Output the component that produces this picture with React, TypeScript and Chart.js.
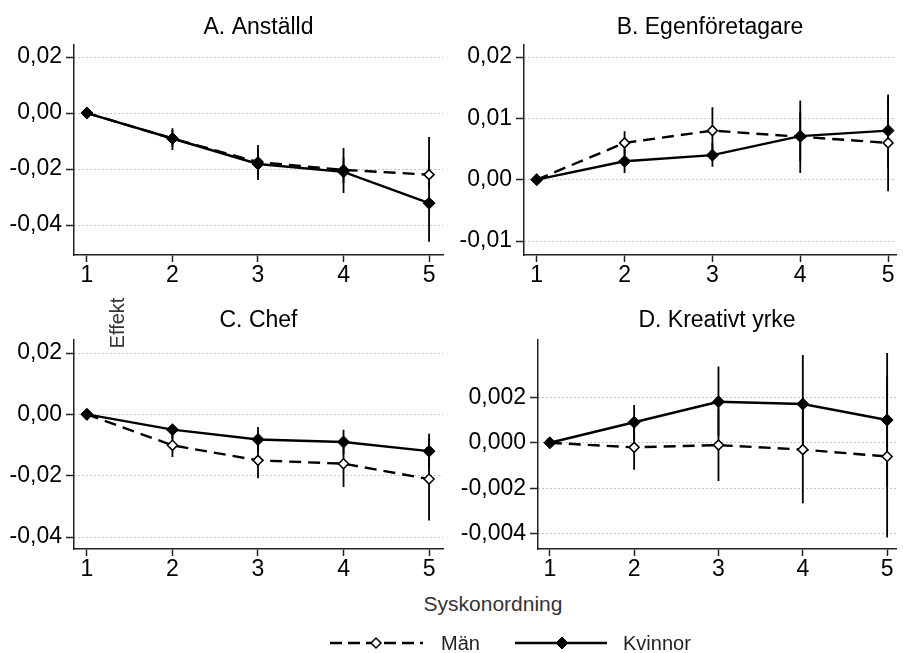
import React, { useEffect, useRef } from "react";
import { Chart, registerables } from "chart.js";

Chart.register(...registerables);

// ---------- data ----------
const syskonordning = [1, 2, 3, 4, 5];
const xTickValues = [1, 2, 3, 4, 5];

// A. Anställd
const aTitle = "A. Anställd";
const aYTicks = [0.02, 0.0, -0.02, -0.04];
const aMan = [0, -0.0091, -0.0175, -0.0203, -0.022];
const aManLo = [null, -0.012, -0.022, -0.025, -0.027];
const aManHi = [null, -0.006, -0.013, -0.016, -0.017];
const aKv = [0, -0.0091, -0.0182, -0.021, -0.0322];
const aKvLo = [null, -0.0132, -0.0239, -0.0286, -0.046];
const aKvHi = [null, -0.0054, -0.0114, -0.0125, -0.0086];

// B. Egenföretagare
const bTitle = "B. Egenföretagare";
const bYTicks = [0.02, 0.01, 0.0, -0.01];
const bMan = [0, 0.006, 0.008, 0.007, 0.006];
const bManLo = [null, 0.004, 0.004, 0.003, -0.0019];
const bManHi = [null, 0.0079, 0.0118, 0.011, 0.0135];
const bKv = [0, 0.003, 0.004, 0.0071, 0.008];
const bKvLo = [null, 0.0011, 0.0021, 0.0011, 0.002];
const bKvHi = [null, 0.005, 0.006, 0.0129, 0.0139];

// C. Chef
const cTitle = "C. Chef";
const cYTicks = [0.02, 0.0, -0.02, -0.04];
const cMan = [0, -0.0101, -0.015, -0.0161, -0.0211];
const cManLo = [null, -0.0139, -0.0208, -0.0237, -0.0346];
const cManHi = [null, -0.006, -0.009, -0.009, -0.008];
const cKv = [0, -0.005, -0.0082, -0.009, -0.012];
const cKvLo = [null, -0.008, -0.012, -0.013, -0.018];
const cKvHi = [null, -0.0036, -0.0041, -0.005, -0.0063];

// D. Kreativt yrke
const dTitle = "D. Kreativt yrke";
const dYTicks = [0.002, 0.0, -0.002, -0.004];
const dMan = [0, -0.0002, -0.0001, -0.0003, -0.0006];
const dManLo = [null, -0.00118, -0.00168, -0.00265, -0.00415];
const dManHi = [null, 0.0008, 0.0015, 0.002, 0.0029];
const dKv = [0, 0.0009, 0.0018, 0.0017, 0.001];
const dKvLo = [null, 0.0001, 0.0003, -0.0005, -0.0019];
const dKvHi = [null, 0.00166, 0.00335, 0.00385, 0.00394];

const legendMan = "Män";
const legendKv = "Kvinnor";
const xAxisTitle = "Syskonordning";
const yAxisTitle = "Effekt";

// ---------- layout ----------
const FONT = '"Liberation Sans", Arial, Helvetica, sans-serif';

type PanelSpec = {
  title: string;
  yTicks: number[];
  dec: number;
  man: number[];
  manLo: (number | null)[];
  manHi: (number | null)[];
  kv: number[];
  kvLo: (number | null)[];
  kvHi: (number | null)[];
  left: number;
  top: number;
  width: number;
  height: number;
  yAxisW: number;
  xAxisH: number;
  padRight: number;
  titlePadTop: number;
  titlePadBottom: number;
  xMin: number;
  xMax: number;
  yMin: number;
  yMax: number;
};

const panels: PanelSpec[] = [
  {
    title: aTitle, yTicks: aYTicks, dec: 2,
    man: aMan, manLo: aManLo, manHi: aManHi, kv: aKv, kvLo: aKvLo, kvHi: aKvHi,
    left: 0, top: 0, width: 450, height: 290, yAxisW: 74, xAxisH: 35, padRight: 5,
    titlePadTop: 13.7, titlePadBottom: 3.7,
    xMin: 0.849, xMax: 5.163, yMin: -0.0507, yMax: 0.0243,
  },
  {
    title: bTitle, yTicks: bYTicks, dec: 2,
    man: bMan, manLo: bManLo, manHi: bManHi, kv: bKv, kvLo: bKvLo, kvHi: bKvHi,
    left: 450, top: 0, width: 453, height: 290, yAxisW: 74, xAxisH: 35, padRight: 0,
    titlePadTop: 13.7, titlePadBottom: 3.7,
    xMin: 0.855, xMax: 5.09, yMin: -0.01228, yMax: 0.02196,
  },
  {
    title: cTitle, yTicks: cYTicks, dec: 2,
    man: cMan, manLo: cManLo, manHi: cManHi, kv: cKv, kvLo: cKvLo, kvHi: cKvHi,
    left: 0, top: 290, width: 450, height: 300, yAxisW: 74, xAxisH: 41, padRight: 5,
    titlePadTop: 16.7, titlePadBottom: 5.7,
    xMin: 0.849, xMax: 5.163, yMin: -0.0439, yMax: 0.02424,
  },
  {
    title: dTitle, yTicks: dYTicks, dec: 3,
    man: dMan, manLo: dManLo, manHi: dManHi, kv: dKv, kvLo: dKvLo, kvHi: dKvHi,
    left: 450, top: 290, width: 453, height: 300, yAxisW: 88, xAxisH: 41, padRight: 0,
    titlePadTop: 16.7, titlePadBottom: 5.7,
    xMin: 0.86, xMax: 5.105, yMin: -0.00466, yMax: 0.00451,
  },
];

function ciData(lo: (number | null)[], hi: (number | null)[]) {
  const out: { x: number; y: number | null }[] = [];
  syskonordning.forEach((x, i) => {
    const l = lo[i];
    const h = hi[i];
    if (l == null || h == null) return;
    out.push({ x, y: l }, { x, y: h }, { x, y: null });
  });
  return out;
}

function fmt(v: number, dec: number) {
  const s = Math.abs(v) < 1e-12 ? (0).toFixed(dec) : v.toFixed(dec);
  return s.replace(".", ",");
}

function Panel({ p }: { p: PanelSpec }) {
  const ref = useRef<HTMLCanvasElement | null>(null);
  useEffect(() => {
    if (!ref.current) return;
    const tickFont = { family: FONT, size: 23, weight: "normal" as const };
    const chart = new Chart(ref.current, {
      type: "line",
      data: {
        datasets: [
          {
            label: legendKv,
            data: syskonordning.map((x, i) => ({ x, y: p.kv[i] })),
            borderColor: "#000",
            borderWidth: 2.4,
            pointStyle: "rectRot",
            pointRadius: 6,
            pointBackgroundColor: "#000",
            pointBorderColor: "#000",
            pointBorderWidth: 1,
            fill: false,
            tension: 0,
            order: 0,
          },
          {
            label: legendMan,
            data: syskonordning.map((x, i) => ({ x, y: p.man[i] })),
            borderColor: "#000",
            borderWidth: 2.4,
            borderDash: [12, 7],
            pointStyle: "rectRot",
            pointRadius: 5,
            pointBackgroundColor: "#fff",
            pointBorderColor: "#000",
            pointBorderWidth: 1.5,
            fill: false,
            tension: 0,
            order: 1,
          },
          {
            label: "ci-kv",
            data: ciData(p.kvLo, p.kvHi),
            borderColor: "#000",
            borderWidth: 1.8,
            pointRadius: 0,
            spanGaps: false,
            fill: false,
            order: 2,
          },
          {
            label: "ci-man",
            data: ciData(p.manLo, p.manHi),
            borderColor: "#000",
            borderWidth: 1.8,
            pointRadius: 0,
            spanGaps: false,
            fill: false,
            order: 3,
          },
        ],
      },
      options: {
        animation: false,
        responsive: false,
        maintainAspectRatio: false,
        events: [],
        layout: { padding: { left: 0, right: p.padRight, top: 0, bottom: 0 } },
        plugins: {
          legend: { display: false },
          tooltip: { enabled: false },
          title: {
            display: true,
            text: p.title,
            fullSize: false,
            color: "#000",
            font: { family: FONT, size: 23, weight: "normal" },
            padding: { top: p.titlePadTop, bottom: p.titlePadBottom },
          },
        },
        scales: {
          x: {
            type: "linear",
            min: p.xMin,
            max: p.xMax,
            afterBuildTicks: (s: any) => {
              s.ticks = xTickValues.map((v) => ({ value: v }));
            },
            afterFit: (s: any) => {
              s.height = p.xAxisH;
              s.paddingLeft = 0;
              s.paddingRight = 0;
            },
            grid: {
              drawOnChartArea: false,
              drawTicks: true,
              tickLength: 7,
              tickColor: "#222",
              tickWidth: 1.5,
            },
            border: { display: true, color: "#222", width: 1.5 },
            ticks: {
              padding: 0,
              font: tickFont,
              color: "#000",
              maxRotation: 0,
              autoSkip: false,
              callback: (v: any) => String(v),
            },
          },
          y: {
            type: "linear",
            min: p.yMin,
            max: p.yMax,
            afterBuildTicks: (s: any) => {
              s.ticks = p.yTicks.map((v) => ({ value: v }));
            },
            afterFit: (s: any) => {
              s.width = p.yAxisW;
              s.paddingTop = 0;
              s.paddingBottom = 0;
            },
            grid: {
              color: "#8a8a8a",
              lineWidth: 1,
              drawTicks: true,
              tickLength: 8,
              tickColor: "#222",
              tickWidth: 1.5,
            },
            border: { display: true, color: "#222", width: 1.5, dash: [1, 3] },
            ticks: {
              padding: 4,
              font: tickFont,
              color: "#000",
              autoSkip: false,
              callback: (v: any) => fmt(Number(v), p.dec),
            },
          },
        },
      } as any,
    });
    return () => chart.destroy();
  }, [p]);
  return (
    <canvas
      ref={ref}
      width={p.width}
      height={p.height}
      style={{
        position: "absolute",
        left: p.left,
        top: p.top,
        width: p.width,
        height: p.height,
      }}
    />
  );
}

export default function App() {
  const textStyle: React.CSSProperties = {
    position: "absolute",
    fontFamily: FONT,
    fontSize: 20,
    lineHeight: 1,
    whiteSpace: "nowrap",
    color: "#222",
  };
  return (
    <div
      style={{
        position: "fixed",
        left: 0,
        top: 0,
        width: 903,
        height: 653,
        background: "#fff",
        overflow: "hidden",
      }}
    >
      {panels.map((p, i) => (
        <Panel key={i} p={p} />
      ))}
      <div
        style={{
          ...textStyle,
          left: 117,
          top: 323,
          transform: "translate(-50%, -50%) rotate(-90deg)",
          color: "#333",
        }}
      >
        {yAxisTitle}
      </div>
      <div
        style={{
          ...textStyle,
          fontSize: 21,
          left: 493,
          top: 603,
          transform: "translate(-50%, -50%)",
          color: "#333",
        }}
      >
        {xAxisTitle}
      </div>
      <svg
        width={903}
        height={653}
        style={{ position: "absolute", left: 0, top: 0 }}
      >
        <line x1={330} y1={643} x2={423} y2={643} stroke="#000" strokeWidth={2.4} strokeDasharray="12 6" />
        <polygon points="371,643 376,638 381,643 376,648" fill="#fff" stroke="#000" strokeWidth={1.5} />
        <line x1={515} y1={643} x2={607} y2={643} stroke="#000" strokeWidth={2.4} />
        <polygon points="556,643 562,637 568,643 562,649" fill="#000" stroke="#000" strokeWidth={1} />
      </svg>
      <div style={{ ...textStyle, left: 441, top: 643, transform: "translateY(-50%)" }}>{legendMan}</div>
      <div style={{ ...textStyle, left: 623, top: 643, transform: "translateY(-50%)" }}>{legendKv}</div>
    </div>
  );
}
